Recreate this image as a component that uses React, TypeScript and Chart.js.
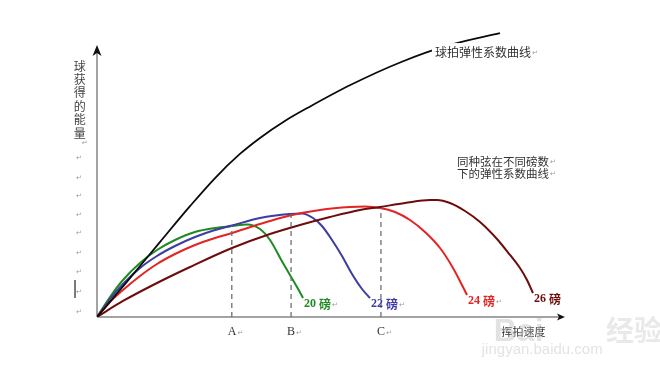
import React, { useEffect, useRef } from "react";
import { Chart, registerables } from "chart.js";

Chart.register(...registerables);

// Swing speed (x) vs energy gained by the ball (y), arbitrary units 0..100
const racketX = [0, 6.9, 13.2, 19.5, 24.7, 29.9, 34.1, 39.3, 44.6, 53.0, 63.4, 73.8, 84.3];
const racketY = [0, 13.1, 25.3, 37.4, 46.8, 54.9, 60.3, 66.0, 70.9, 78.1, 85.7, 91.6, 95.6];

const lb20X = [0, 2.72, 5.44, 8.99, 12.55, 16.32, 20.5, 24.69, 28.24, 31.38, 34.1, 36.19, 38.91, 41.84, 43.1];
const lb20Y = [0, 6.73, 12.46, 18.18, 22.56, 25.93, 28.62, 29.97, 30.64, 31.14, 29.63, 25.93, 18.18, 10.1, 6.4];

const lb22X = [0, 2.72, 5.44, 9.0, 12.55, 16.32, 20.5, 24.69, 28.24, 34.1, 40.38, 42.89, 45.19, 47.07, 49.16, 51.26, 53.35, 55.44, 57.11];
const lb22Y = [0, 6.06, 11.11, 16.5, 20.54, 23.9, 26.94, 29.29, 30.81, 33.33, 34.68, 34.85, 33.33, 30.64, 25.93, 20.54, 14.48, 9.43, 6.4];

const lb24X = [0, 2.72, 5.44, 9.0, 12.55, 16.32, 20.5, 24.69, 28.24, 34.1, 40.38, 46.65, 52.93, 56.07, 59.21, 62.34, 65.48, 68.62, 71.76, 74.48, 77.41];
const lb24Y = [0, 5.05, 9.09, 13.8, 17.85, 21.21, 24.24, 26.6, 28.28, 31.31, 34.18, 36.03, 37.04, 37.21, 36.7, 35.35, 32.66, 28.62, 23.23, 16.5, 7.41];

const lb26X = [0, 5.44, 12.55, 19.46, 28.24, 36.19, 42.47, 48.74, 55.02, 59.21, 64.44, 69.67, 71.13, 73.85, 76.99, 80.13, 83.68, 86.4, 88.49, 89.96, 91.21];
const lb26Y = [0, 5.39, 11.45, 16.84, 23.23, 27.95, 30.98, 33.67, 36.03, 37.04, 38.38, 39.39, 39.39, 38.38, 35.69, 31.99, 26.26, 20.88, 16.5, 12.46, 8.08];

const markerNames = ["A", "B", "C"];
const markerX = [28.2, 40.6, 59.4];
const markerTop = [30.6, 34.7, 36.7];

const stringLabels = ["20 磅", "22 磅", "24 磅", "26 磅"];
const stringColors = ["#1f8a23", "#3c3ca3", "#e42323", "#6e0c0c"];

const yTitleChars = ["球", "获", "得", "的", "能", "量"];
const returnMarkValues = [53.9, 47.1, 41.1, 34.7, 28.6, 21.9, 15.5, 8.8, 2.0];

const curveTitle = "球拍弹性系数曲线";
const familyTitle = ["同种弦在不同磅数", "下的弹性系数曲线"];
const xTitle = "挥拍速度";

const pts = (xs: number[], ys: number[]) => xs.map((x, i) => ({ x, y: ys[i] }));

const CJK = '"Noto Sans CJK SC", "Noto Sans", sans-serif';
const SERIF = '"Liberation Serif", "DejaVu Serif", serif';
const RET = '"DejaVu Sans", sans-serif';

export default function App() {
  const ref = useRef<HTMLCanvasElement | null>(null);

  useEffect(() => {
    if (!ref.current) return;

    const overlay = {
      id: "overlay",
      beforeDatasetsDraw(chart: any) {
        const ctx = chart.ctx;
        const xs = chart.scales.x;
        const ys = chart.scales.y;
        const ox = xs.getPixelForValue(0);
        const oy = ys.getPixelForValue(0);
        const yTop = ys.getPixelForValue(91.6);
        const xEnd = xs.getPixelForValue(97.9);
        ctx.save();
        ctx.strokeStyle = "#a3a3a3";
        ctx.lineWidth = 2;
        ctx.beginPath();
        ctx.moveTo(ox, oy);
        ctx.lineTo(ox, yTop + 6);
        ctx.moveTo(ox, oy);
        ctx.lineTo(xEnd - 4, oy);
        ctx.stroke();
        ctx.fillStyle = "#111";
        ctx.beginPath();
        ctx.moveTo(ox, yTop);
        ctx.lineTo(ox - 4.5, yTop + 11);
        ctx.lineTo(ox, yTop + 8);
        ctx.lineTo(ox + 4.5, yTop + 11);
        ctx.closePath();
        ctx.fill();
        ctx.beginPath();
        ctx.moveTo(xEnd, oy);
        ctx.lineTo(xEnd - 8, oy - 3.5);
        ctx.lineTo(xEnd - 6, oy);
        ctx.lineTo(xEnd - 8, oy + 3.5);
        ctx.closePath();
        ctx.fill();
        ctx.restore();
      },
      afterDatasetsDraw(chart: any) {
        const ctx = chart.ctx;
        const xs = chart.scales.x;
        const ys = chart.scales.y;
        const px = (v: number) => xs.getPixelForValue(v);
        const py = (v: number) => ys.getPixelForValue(v);
        const text = (s: string, x: number, y: number, font: string, color: string, align = "left") => {
          ctx.font = font;
          ctx.fillStyle = color;
          ctx.textAlign = align;
          ctx.textBaseline = "middle";
          ctx.fillText(s, x, y);
          return ctx.measureText(s).width;
        };
        const ret = (x: number, y: number) => text("↵", x, y + 1, `7px ${RET}`, "#9a9a9a");
        ctx.save();

        {
          const x = px(70.7);
          const y = py(89.2);
          ctx.font = `12px ${CJK}`;
          const w = ctx.measureText(curveTitle).width;
          ctx.fillStyle = "#fff";
          ctx.fillRect(x - 3, y - 9, w + 14, 18);
          const tw = text(curveTitle, x, y, `12px ${CJK}`, "#333");
          ret(x + tw + 1, y);
        }
        familyTitle.forEach((s, i) => {
          const x = px(75.3);
          const y = py(52.3) + i * 12;
          const tw = text(s, x, y, `11.5px ${CJK}`, "#333");
          ret(x + tw + 1, y);
        });

        const ends = [lb20X, lb22X, lb24X, lb26X];
        const endsY = [lb20Y, lb22Y, lb24Y, lb26Y];
        stringLabels.forEach((s, i) => {
          const lx = ends[i][ends[i].length - 1];
          const ly = endsY[i][endsY[i].length - 1];
          const x = px(lx) + 1;
          const y = py(ly) + 6;
          const [num, unit] = s.split(" ");
          const w1 = text(num, x, y, `bold 12px ${SERIF}`, stringColors[i]);
          const w2 = text(unit, x + w1 + 3, y, `bold 12px ${CJK}`, stringColors[i]);
          if (i < 3) ret(x + w1 + 3 + w2 + 1, y);
        });

        markerNames.forEach((n, i) => {
          const x = px(markerX[i]) - 4;
          const y = py(0) + 15;
          const w = text(n, x, y, `12px ${SERIF}`, "#333");
          ret(x + w + 1, y);
        });

        text(xTitle, px(84.6), py(0) + 15, `11px ${CJK}`, "#333");

        yTitleChars.forEach((c, i) => {
          text(c, px(-3.6), py(84.5) + i * 13.4, `12px ${CJK}`, "#444", "center");
        });
        ret(px(-3.6) + 2, py(84.5) + 6 * 13.4 - 4);
        returnMarkValues.forEach((v) => ret(px(-4.4), py(v)));
        ctx.strokeStyle = "#222";
        ctx.lineWidth = 1.2;
        ctx.beginPath();
        ctx.moveTo(px(-4.6), py(12.5));
        ctx.lineTo(px(-4.6), py(6.4));
        ctx.stroke();

        text("Bai", px(83.0), py(-5), `bold 32px "Liberation Sans", sans-serif`, "rgba(190,190,190,0.45)");
        text("经验", px(106.5), py(-4.5), `bold 28px ${CJK}`, "rgba(200,200,200,0.4)");
        text("jingyan.baidu.com", px(80.5), py(-11), `15px "Liberation Sans", sans-serif`, "rgba(200,200,200,0.5)");
        ctx.restore();
      },
    };

    const line = (data: any, color: string, width = 2) => ({
      data,
      borderColor: color,
      backgroundColor: color,
      borderWidth: width,
      pointRadius: 0,
      showLine: true,
      fill: false,
      cubicInterpolationMode: "monotone",
    });

    const dashed = markerX.map((x, i) => ({
      data: [
        { x, y: 0 },
        { x, y: markerTop[i] },
      ],
      borderColor: "#6f6f6f",
      borderWidth: 1.3,
      borderDash: [5, 4],
      pointRadius: 0,
      showLine: true,
      fill: false,
    }));

    const chart = new Chart(ref.current, {
      type: "scatter",
      data: {
        datasets: [
          ...dashed,
          line(pts(racketX, racketY), "#0a0a0a", 1.8),
          line(pts(lb26X, lb26Y), stringColors[3]),
          line(pts(lb24X, lb24Y), stringColors[2]),
          line(pts(lb22X, lb22Y), stringColors[1]),
          line(pts(lb20X, lb20Y), stringColors[0]),
        ] as any,
      },
      options: {
        animation: false,
        responsive: false,
        maintainAspectRatio: false,
        layout: { padding: { left: 97, right: 85, top: 20, bottom: 48 } },
        scales: {
          x: { type: "linear", min: 0, max: 100, display: false },
          y: { type: "linear", min: 0, max: 100, display: false },
        },
        plugins: { legend: { display: false }, tooltip: { enabled: false } },
      },
      plugins: [overlay as any],
    });
    return () => chart.destroy();
  }, []);

  return (
    <div style={{ position: "fixed", left: 0, top: 0, width: 660, height: 365, background: "#fff" }}>
      <canvas ref={ref} width={660} height={365} style={{ display: "block" }} />
    </div>
  );
}
